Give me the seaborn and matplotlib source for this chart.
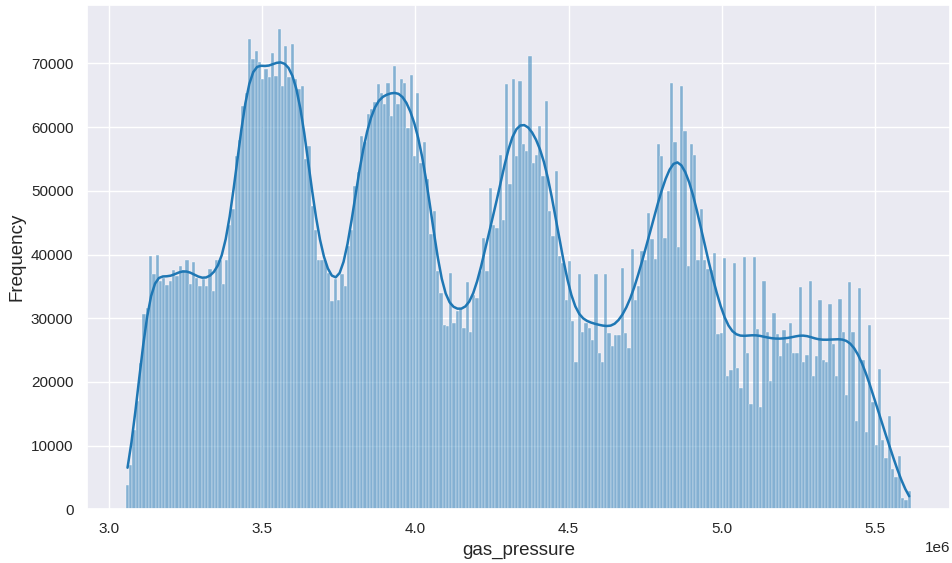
import numpy as np
import pandas as pd
import matplotlib
matplotlib.use("Agg")
import matplotlib.pyplot as plt
import seaborn as sns

# Histogram of gas pressure readings: counts per equal-width bin (thousands)
pressure_min = 3.056e6
pressure_max = 5.616e6

counts_k = [
    # 3.06 - 3.36 e6
    3.8, 7.0, 12.5, 17.0, 23.0, 30.7, 31.6, 39.7, 36.9, 39.9, 35.8, 36.3, 35.2, 35.8,
    37.5, 36.6, 38.2, 37.6, 39.1, 35.4, 38.9, 36.3, 35.0, 36.2, 35.0, 37.8, 34.2, 39.2,
    # 3.36 - 3.69 e6
    39.2, 35.3, 39.2, 44.7, 47.1, 55.5, 58.0, 63.3, 65.4, 73.8, 70.7, 72.0, 70.2, 67.5,
    69.2, 67.8, 71.6, 68.1, 75.4, 66.5, 72.8, 67.8, 73.0, 67.5, 66.0, 66.4, 55.0, 57.1,
    47.6, 43.9, 39.2,
    # 3.69 - 4.01 e6
    39.2, 39.0, 37.1, 32.7, 36.1, 32.9, 36.9, 35.0, 41.3, 43.9, 50.8, 52.9, 58.6, 57.6,
    62.0, 62.8, 63.9, 66.8, 65.4, 63.6, 66.9, 61.7, 69.6, 63.6, 67.5, 66.9, 59.9, 68.2,
    55.5, 65.3, 54.4,
    # 4.01 - 4.33 e6
    57.6, 51.8, 43.2, 46.8, 37.4, 34.0, 29.0, 28.8, 37.1, 29.3, 31.1, 31.4, 28.5, 35.7,
    27.9, 33.7, 33.2, 37.4, 42.6, 37.4, 50.5, 44.7, 44.2, 55.6, 45.5, 66.8, 51.0, 67.6,
    55.4, 67.3,
    # 4.33 - 4.65 e6
    57.3, 56.3, 71.2, 54.4, 55.7, 60.2, 52.3, 64.1, 46.8, 42.9, 53.1, 39.7, 38.7, 32.9,
    39.0, 29.5, 23.2, 36.9, 27.9, 29.3, 28.5, 26.6, 36.9, 24.5, 23.2, 36.9, 27.7, 25.6,
    27.4,
    # 4.65 - 4.98 e6
    27.4, 37.9, 27.7, 25.3, 40.8, 32.8, 35.1, 40.5, 39.2, 46.6, 42.4, 39.3, 57.3, 55.4,
    42.6, 50.0, 67.0, 57.6, 41.2, 66.4, 59.4, 38.2, 57.3, 55.6, 39.2, 47.1, 39.2, 37.7,
    37.5, 40.3,
    # 4.98 - 5.30 e6
    27.6, 27.7, 39.5, 20.9, 21.9, 38.6, 22.2, 19.0, 39.6, 24.5, 16.6, 39.6, 28.3, 16.0,
    35.8, 27.9, 20.2, 30.8, 27.6, 24.0, 28.1, 26.1, 29.3, 24.6, 24.5, 34.9, 23.1, 24.3,
    35.8, 21.0,
    # 5.30 - 5.62 e6
    24.1, 32.8, 23.5, 23.2, 32.3, 25.9, 20.9, 33.0, 27.8, 18.0, 35.7, 27.9, 13.8, 34.8,
    23.5, 12.1, 29.0, 16.9, 10.1, 22.0, 10.9, 8.0, 14.7, 6.3, 5.1, 8.4, 1.7, 1.4, 2.9,
]

n_bins = len(counts_k)
edges = np.linspace(pressure_min, pressure_max, n_bins + 1)
df = pd.DataFrame({
    "gas_pressure": (edges[:-1] + edges[1:]) / 2,
    "count": np.array(counts_k) * 1000.0,
})

sns.set_theme(style="darkgrid")
plt.rcParams["font.family"] = ["Liberation Sans", "DejaVu Sans"]

fig = plt.figure(figsize=(9.52, 5.63), dpi=100)
ax = fig.add_axes([0.091, 0.0954, 0.907, 0.8956])

sns.histplot(
    data=df, x="gas_pressure", weights="count",
    bins=n_bins, binrange=(pressure_min, pressure_max),
    kde=True, kde_kws={"bw_adjust": 0.118},
    line_kws={"linewidth": 1.8},
    color="#1f77b4", ax=ax,
)

ax.set_xlabel("gas_pressure", fontsize=13.5)
ax.set_ylabel("Frequency", fontsize=13.5)
ax.tick_params(labelsize=11)
ax.xaxis.get_offset_text().set_fontsize(11)

fig.savefig("out.png", dpi=100)
